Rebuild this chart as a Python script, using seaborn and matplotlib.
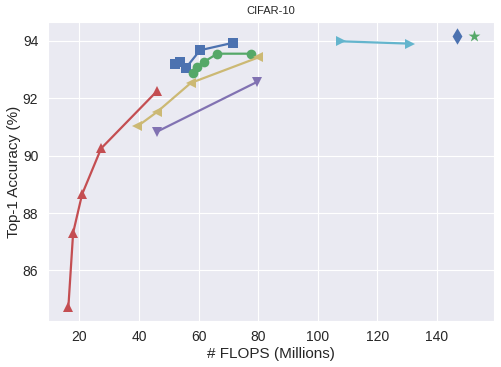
import matplotlib
matplotlib.use("Agg")
import matplotlib.pyplot as plt
import seaborn as sns

# FLOPS (millions) and top-1 accuracy (%)
blue_x = [52.2, 53.8, 55.8, 60.5, 71.6]
blue_y = [93.18, 93.27, 93.06, 93.67, 93.93]

green_x = [58.0, 59.6, 61.9, 66.3, 77.6]
green_y = [92.88, 93.09, 93.27, 93.55, 93.55]

yellow_x = [39.5, 46.2, 57.4, 80.1]
yellow_y = [91.02, 91.53, 92.53, 93.42]

purple_x = [46.0, 79.5]
purple_y = [90.83, 92.56]

red_x = [16.3, 17.9, 20.9, 27.3, 46.0]
red_y = [84.72, 87.31, 88.65, 90.25, 92.24]

cyan_x = [108.0, 130.9]
cyan_y = [93.98, 93.90]

diamond_x = [146.8]
diamond_y = [94.18]

star_x = [152.4]
star_y = [94.15]

# old seaborn "deep" colours
c_blue, c_green, c_red = "#4C72B0", "#55A868", "#C44E52"
c_purple, c_yellow, c_cyan = "#8172B2", "#CCB974", "#64B5CD"

sns.set_style("darkgrid")
plt.rcParams["font.family"] = ["Liberation Sans", "DejaVu Sans"]

fig, ax = plt.subplots(figsize=(5.01, 3.67), dpi=100)
fig.subplots_adjust(left=0.096, right=0.986, top=0.94, bottom=0.126)

# line series
series = [
    (blue_x, blue_y, c_blue, "s"),
    (green_x, green_y, c_green, "o"),
    (yellow_x, yellow_y, c_yellow, "<"),
    (purple_x, purple_y, c_purple, "v"),
    (red_x, red_y, c_red, "^"),
    (cyan_x, cyan_y, c_cyan, ">"),
]
for xs, ys, col, mk in series:
    sns.lineplot(x=xs, y=ys, ax=ax, color=col, marker=mk, markersize=7,
                 markeredgewidth=0, linewidth=1.6, sort=False)

# single points
sns.scatterplot(x=diamond_x, y=diamond_y, ax=ax, color=c_blue, marker="d",
                s=70, linewidth=0)
sns.scatterplot(x=star_x, y=star_y, ax=ax, color=c_green, marker="*",
                s=80, linewidth=0)

ax.set_title("CIFAR-10", fontsize=8)
ax.set_xlabel("# FLOPS (Millions)", fontsize=11, labelpad=2)
ax.set_ylabel("Top-1 Accuracy (%)", fontsize=11, labelpad=1)
ax.tick_params(labelsize=10)
ax.set_xticks([20, 40, 60, 80, 100, 120, 140])
ax.set_yticks([86, 88, 90, 92, 94])

fig.savefig("out.png", dpi=100)
